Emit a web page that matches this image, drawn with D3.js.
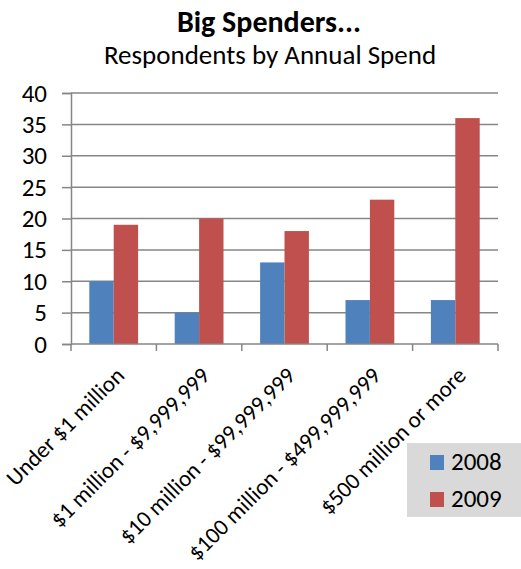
<!DOCTYPE html>
<html>
<head>
<meta charset="utf-8">
<script src="https://cdn.jsdelivr.net/npm/d3@7"></script>
<style>
  body { margin: 0; background: #fff; }
  svg { display: block; }
  text { font-family: Carlito, Calibri, Lato, "Open Sans", sans-serif; fill: #000; }
</style>
</head>
<body>
<svg id="chart" width="521" height="569"></svg>
<script>
const categories = ["Under $1 million", "$1 million - $9,999,999", "$10 million - $99,999,999", "$100 million - $499,999,999", "$500 million or more"];
const series = ["2008", "2009"];
const values2008 = [10, 5, 13, 7, 7];
const values2009 = [19, 20, 18, 23, 36];
const yTicks = [0, 5, 10, 15, 20, 25, 30, 35, 40];
const colors = ["#4F81BD", "#C0504D"];

const svg = d3.select("#chart");
const margin = { left: 71, right: 23, top: 93, bottom: 225 };
const W = 521, H = 569;
const FONT = "Carlito, Calibri, Lato, 'Open Sans', sans-serif";

const x = d3.scaleBand().domain(categories).range([margin.left, W - margin.right]);
const xInner = d3.scaleBand().domain(series).range([0, x.bandwidth()])
  .paddingInner(0).paddingOuter(0.75);
const y = d3.scaleLinear().domain([0, 40]).range([H - margin.bottom, margin.top]);

// Titles
svg.append("text").attr("x", 269).attr("y", 32).attr("text-anchor", "middle")
  .attr("font-size", 30).attr("font-weight", "bold").text("Big Spenders...");
svg.append("text").attr("x", 270).attr("y", 64).attr("text-anchor", "middle")
  .attr("font-size", 27).text("Respondents by Annual Spend");

// Horizontal gridlines
svg.append("g").selectAll("line").data(yTicks.filter(d => d > 0)).join("line")
  .attr("x1", margin.left).attr("x2", W - margin.right)
  .attr("y1", d => y(d)).attr("y2", d => y(d))
  .attr("stroke", "#868686").attr("stroke-width", 1.5);

// y axis
const yAxis = d3.axisLeft(y).tickValues(yTicks).tickSize(9).tickPadding(15);
const gy = svg.append("g").attr("transform", `translate(${margin.left},0)`).call(yAxis);
gy.select(".domain").attr("stroke", "#868686").attr("stroke-width", 1.5);
gy.selectAll(".tick line").attr("stroke", "#868686").attr("stroke-width", 1.5);
gy.selectAll(".tick text").attr("font-size", 25).attr("font-family", FONT).attr("fill", "#000");

// Bars
const rows = categories.map((c, i) => ({ c, v: [values2008[i], values2009[i]] }));
const groups = svg.append("g").selectAll("g").data(rows).join("g")
  .attr("transform", d => `translate(${x(d.c)},0)`);
groups.selectAll("rect").data(d => d.v.map((v, j) => ({ s: series[j], v, j }))).join("rect")
  .attr("x", d => xInner(d.s)).attr("width", xInner.bandwidth())
  .attr("y", d => y(d.v)).attr("height", d => y(0) - y(d.v))
  .attr("fill", d => colors[d.j]);

// x axis line and category separators
svg.append("line").attr("x1", margin.left).attr("x2", W - margin.right)
  .attr("y1", y(0)).attr("y2", y(0)).attr("stroke", "#868686").attr("stroke-width", 1.5);
const edges = categories.map(c => x(c)).concat([x(categories[categories.length - 1]) + x.bandwidth()]);
svg.append("g").selectAll("line").data(edges).join("line")
  .attr("x1", d => d).attr("x2", d => d)
  .attr("y1", y(0)).attr("y2", y(0) + 7)
  .attr("stroke", "#868686").attr("stroke-width", 1.5);

svg.append("g").selectAll("text").data(categories).join("text")
  .attr("transform", d => `translate(${x(d) + x.bandwidth() / 2 + 12},${y(0) + 33}) rotate(-45)`)
  .attr("text-anchor", "end").attr("font-size", 23).text(d => d);

// Legend
const lg = svg.append("g");
lg.append("rect").attr("x", 407).attr("y", 443).attr("width", 114).attr("height", 74).attr("fill", "#d9d9d9");
series.forEach((s, i) => {
  lg.append("rect").attr("x", 430).attr("y", 455 + i * 37).attr("width", 14).attr("height", 15).attr("fill", colors[i]);
  lg.append("text").attr("x", 451).attr("y", 470 + i * 37).attr("font-size", 25).text(s);
});
</script>
</body>
</html>
